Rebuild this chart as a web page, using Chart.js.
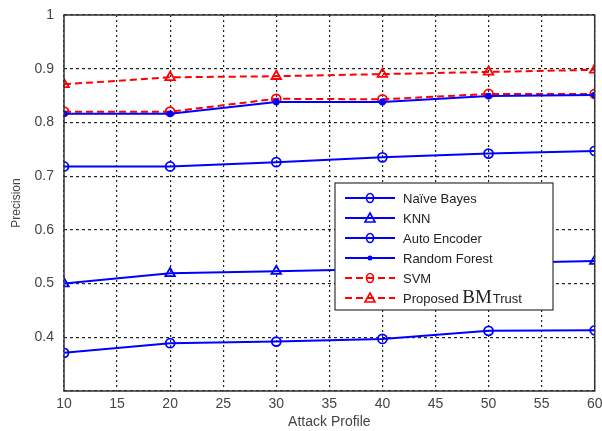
<!DOCTYPE html>
<html>
<head>
<meta charset="UTF-8">
<script src="https://cdn.jsdelivr.net/npm/chart.js"></script>
<style>
  html, body { margin: 0; padding: 0; background: #fff; }
  #wrap { width: 602px; height: 431px; }
</style>
</head>
<body>
<div id="wrap"><canvas id="chart" width="602" height="431"></canvas></div>
<script>
const profiles = [10, 20, 30, 40, 50, 60];
const naiveBayes = [0.718, 0.718, 0.726, 0.735, 0.742, 0.747];
const knn = [0.500, 0.519, 0.523, 0.527, 0.538, 0.542];
const autoEncoder = [0.371, 0.389, 0.392, 0.397, 0.412, 0.413];
const randomForest = [0.816, 0.816, 0.838, 0.838, 0.849, 0.851];
const svm = [0.820, 0.820, 0.844, 0.843, 0.853, 0.853];
const proposed = [0.871, 0.884, 0.886, 0.890, 0.894, 0.898];

const BLUE = '#0000ff', RED = '#ff0000';
const pts = arr => arr.map((v, i) => ({ x: profiles[i], y: v }));

function ds(label, data, color, style, dashed) {
  return {
    label, data: pts(data),
    borderColor: color, backgroundColor: style === 'dot' ? color : 'rgba(0,0,0,0)',
    borderWidth: 2, borderDash: dashed ? [7, 4] : [],
    pointStyle: style === 'dot' ? 'circle' : style,
    pointRadius: style === 'dot' ? 2.5 : (style === 'triangle' ? 5.5 : 4.5),
    pointBorderColor: color, pointBorderWidth: 1.8,
    pointBackgroundColor: style === 'dot' ? color : 'rgba(0,0,0,0)',
    tension: 0
  };
}

const datasets = [
  ds('Naive Bayes', naiveBayes, BLUE, 'circle', false),
  ds('KNN', knn, BLUE, 'triangle', false),
  ds('Auto Encoder', autoEncoder, BLUE, 'circle', false),
  ds('Random Forest', randomForest, BLUE, 'dot', false),
  ds('SVM', svm, RED, 'circle', true),
  ds('Proposed BM Trust', proposed, RED, 'triangle', true)
];

// box around plot + custom legend inside
const boxLegend = {
  id: 'boxLegend',
  afterDraw(chart) {
    const ctx = chart.ctx, a = chart.chartArea;
    ctx.save();
    ctx.strokeStyle = '#333'; ctx.lineWidth = 1.5; ctx.setLineDash([]);
    ctx.strokeRect(a.left, a.top, a.right - a.left, a.bottom - a.top);

    const lx = 335, ly = 183, lw = 218, lh = 127;
    ctx.fillStyle = '#fff'; ctx.fillRect(lx, ly, lw, lh);
    ctx.strokeStyle = '#333'; ctx.lineWidth = 1.2;
    ctx.strokeRect(lx, ly, lw, lh);
    const labels = ['Naive Bayes', 'KNN', 'Auto Encoder', 'Random Forest', 'SVM', 'Proposed '];
    labels.forEach((t, i) => {
      const d = chart.data.datasets[i];
      const y = ly + 15 + i * 20;
      ctx.strokeStyle = d.borderColor; ctx.lineWidth = 2;
      ctx.setLineDash(d.borderDash);
      ctx.beginPath(); ctx.moveTo(lx + 10, y); ctx.lineTo(lx + 60, y); ctx.stroke();
      ctx.setLineDash([]); ctx.lineWidth = 1.6;
      const cx = lx + 35;
      if (d.pointStyle === 'triangle') {
        ctx.beginPath(); ctx.moveTo(cx, y - 5); ctx.lineTo(cx + 5, y + 4); ctx.lineTo(cx - 5, y + 4); ctx.closePath(); ctx.stroke();
      } else if (d.pointRadius < 3) {
        ctx.fillStyle = d.borderColor; ctx.beginPath(); ctx.arc(cx, y, 2.5, 0, Math.PI * 2); ctx.fill();
      } else {
        ctx.beginPath(); ctx.ellipse(cx, y, 3.5, 4.5, 0, 0, Math.PI * 2); ctx.stroke();
      }
      ctx.fillStyle = '#222'; ctx.font = '13px "Liberation Sans", Arial, sans-serif';
      ctx.textBaseline = 'middle'; ctx.textAlign = 'left';
      const text = i === 0 ? 'Na\u00efve Bayes' : t;
      ctx.fillText(text, lx + 68, y + 1);
      if (i === 5) {
        let x2 = lx + 68 + ctx.measureText(text).width;
        ctx.font = '19px "Liberation Serif", "Times New Roman", serif';
        ctx.fillText('BM', x2, y);
        x2 += ctx.measureText('BM').width + 1;
        ctx.font = '13px "Liberation Sans", Arial, sans-serif';
        ctx.fillText('Trust', x2, y + 1);
      }
    });
    ctx.restore();
  }
};

new Chart(document.getElementById('chart'), {
  type: 'line',
  data: { datasets },
  options: {
    responsive: false,
    animation: false,
    layout: { padding: { top: 15, right: 4, left: 5, bottom: 0 } },
    plugins: { legend: { display: false }, tooltip: { enabled: false } },
    scales: {
      x: {
        type: 'linear', min: 10, max: 60,
        ticks: { stepSize: 5, color: '#444', font: { family: '"Liberation Sans", Arial', size: 14 }, padding: 5, maxRotation: 0 },
        grid: { color: '#222', lineWidth: 1.2, drawTicks: false },
        border: { dash: [2, 3], display: false },
        title: { display: true, text: 'Attack Profile', color: '#444', font: { family: '"Liberation Sans", Arial', size: 14 }, padding: { top: 1, bottom: 0 } },
        afterFit(s) { s.height = 40; s.paddingRight = 0; s.paddingLeft = 0; }
      },
      y: {
        min: 0.3, max: 1,
        ticks: {
          stepSize: 0.1, color: '#444', font: { family: '"Liberation Sans", Arial', size: 14 }, padding: 10,
          callback: v => (Math.abs(v - 0.3) < 1e-6 ? '' : (Math.abs(v - 1) < 1e-6 ? '1' : v.toFixed(1)))
        },
        grid: { color: '#222', lineWidth: 1.2, drawTicks: false },
        border: { dash: [3, 3], display: false },
        title: { display: true, text: 'Precision', color: '#444', font: { family: '"Liberation Sans", Arial', size: 12 }, padding: { bottom: 0 } },
        afterFit(s) { s.width = 59; s.paddingTop = 0; s.paddingBottom = 0; }
      }
    }
  },
  plugins: [boxLegend]
});
</script>
</body>
</html>
